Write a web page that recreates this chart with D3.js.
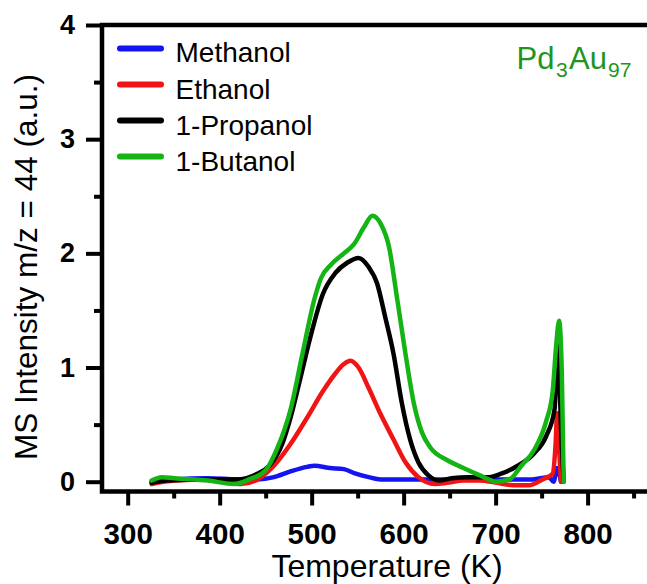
<!DOCTYPE html>
<html>
<head>
<meta charset="utf-8">
<script src="https://cdn.jsdelivr.net/npm/d3@7"></script>
<style>
html,body{margin:0;padding:0;background:#fff;}
svg{display:block;font-family:"Liberation Sans",Arial,sans-serif;}
</style>
</head>
<body>
<svg id="chart" width="647" height="584"></svg>
<script>
// ---- data ----
const seriesNames = ["Methanol", "Ethanol", "1-Propanol", "1-Butanol"];
const seriesColors = ["#1414f0", "#f01414", "#000000", "#14b414"];

const methanol = [[326,0.0],[351,0.02],[387,0.03],[420,0.02],[441,0.02],[459,0.04],[477,0.09],[495,0.13],[503,0.14],[520,0.12],[535,0.11],[548,0.07],[562,0.04],[575,0.02],[600,0.02],[640,0.02],[700,0.02],[740,0.02],[758,0.04],[763,0.0],[767,0.12],[771,0.0]];
const ethanol = [[326,-0.02],[351,0.01],[387,0.02],[423,-0.02],[441,0.02],[459,0.14],[477,0.33],[495,0.56],[512,0.79],[526,0.95],[535,1.03],[542,1.06],[551,1.0],[562,0.82],[575,0.59],[589,0.37],[602,0.17],[616,0.04],[634,-0.02],[647,-0.01],[665,0.01],[683,0.01],[701,-0.01],[719,-0.03],[737,-0.03],[751,0.02],[762,0.07],[765,0.3],[767,0.6],[769,0.3],[771,0.0]];
const propanol = [[326,-0.01],[342,0.01],[387,0.02],[418,0.02],[441,0.07],[454,0.14],[468,0.33],[477,0.56],[486,0.85],[499,1.28],[512,1.64],[526,1.83],[539,1.92],[551,1.96],[562,1.88],[571,1.74],[580,1.44],[589,1.12],[598,0.69],[607,0.37],[616,0.17],[627,0.055],[638,0.01],[652,0.03],[670,0.04],[693,0.04],[706,0.07],[724,0.14],[742,0.25],[755,0.40],[764,0.63],[768,1.2],[771,0.5],[774,0.0]];
const butanol = [[326,0.01],[337,0.04],[351,0.03],[387,0.01],[416,-0.02],[432,0.02],[450,0.10],[463,0.30],[477,0.63],[490,1.12],[503,1.6],[510,1.78],[521,1.90],[535,2.0],[546,2.08],[557,2.23],[566,2.33],[575,2.26],[584,2.06],[593,1.6],[602,1.12],[611,0.69],[620,0.43],[629,0.30],[647,0.19],[665,0.12],[683,0.055],[701,0.0],[715,0.02],[728,0.14],[742,0.28],[755,0.53],[762,0.79],[766,1.21],[769,1.41],[772,0.95],[774,0.0]];
const seriesData = [methanol, ethanol, propanol, butanol];

const xMajorTicks = [300, 400, 500, 600, 700, 800];
const xMinorTicks = [350, 450, 550, 650, 750, 850];
const yMajorTicks = [0, 1, 2, 3, 4];
const yMinorTicks = [0.5, 1.5, 2.5, 3.5];

// ---- layout ----
const svg = d3.select("#chart");
const x = d3.scaleLinear().domain([300, 800]).range([127.7, 587.6]);
const y = d3.scaleLinear().domain([0, 4]).range([481.7, 25]);
const frameL = 102, frameT = 25, frameB = 491.5, frameR = 660;

const plot = svg.append("g");
const line = d3.line().x(d => x(d[0])).y(d => y(d[1])).curve(d3.curveMonotoneX);

seriesData.forEach((s, i) => {
  plot.append("path").datum(s)
    .attr("d", line)
    .attr("fill", "none")
    .attr("stroke", seriesColors[i])
    .attr("stroke-width", 4.5)
    .attr("stroke-linejoin", "round")
    .attr("stroke-linecap", "round");
});

// frame
svg.append("rect").attr("x", frameL).attr("y", frameT)
  .attr("width", frameR-frameL).attr("height", frameB-frameT)
  .attr("fill", "none").attr("stroke", "#000").attr("stroke-width", 4.5);

// x axis ticks
const xAxisMajor = d3.axisBottom(x).tickValues(xMajorTicks).tickSize(14).tickPadding(18).tickFormat(d3.format("d"));
const gx = svg.append("g").attr("transform", `translate(0,${frameB})`).call(xAxisMajor);
gx.select(".domain").remove();
gx.selectAll("line").attr("stroke-width", 4);
gx.selectAll("text").attr("font-size", 29.5).attr("font-weight", "bold")
  .attr("font-family", "'Liberation Sans', Arial, sans-serif").attr("fill","#000");
const xAxisMinor = d3.axisBottom(x).tickValues(xMinorTicks).tickSize(7).tickFormat("");
const gxm = svg.append("g").attr("transform", `translate(0,${frameB})`).call(xAxisMinor);
gxm.select(".domain").remove();
gxm.selectAll("line").attr("stroke-width", 4);

// y axis ticks
const yAxisMajor = d3.axisLeft(y).tickValues(yMajorTicks).tickSize(16).tickPadding(11).tickFormat(d3.format("d"));
const gy = svg.append("g").attr("transform", `translate(${frameL},0)`).call(yAxisMajor);
gy.select(".domain").remove();
gy.selectAll("line").attr("stroke-width", 4);
gy.selectAll("text").attr("font-size", 27).attr("font-weight", "bold")
  .attr("font-family", "'Liberation Sans', Arial, sans-serif").attr("fill","#000");
const yAxisMinor = d3.axisLeft(y).tickValues(yMinorTicks).tickSize(8).tickFormat("");
const gym = svg.append("g").attr("transform", `translate(${frameL},0)`).call(yAxisMinor);
gym.select(".domain").remove();
gym.selectAll("line").attr("stroke-width", 4);

// axis titles
svg.append("text").attr("x", 387).attr("y", 577).attr("text-anchor", "middle")
  .attr("font-size", 32).text("Temperature (K)");
svg.append("text").attr("transform", "translate(37,267) rotate(-90)")
  .attr("text-anchor", "middle").attr("font-size", 31.5)
  .text("MS Intensity m/z = 44 (a.u.)");

// legend
const legend = svg.append("g");
const legendY = [48.4, 84.5, 120.5, 156.5];
seriesNames.forEach((n, i) => {
  const yy = legendY[i];
  legend.append("line").attr("x1", 120).attr("x2", 161).attr("y1", yy).attr("y2", yy)
    .attr("stroke", seriesColors[i]).attr("stroke-width", 6).attr("stroke-linecap", "round");
  legend.append("text").attr("x", 175.5).attr("y", yy + 14).attr("font-size", 28).text(n);
});

// sample label
const lab = svg.append("text").attr("x", 516.5).attr("y", 69).attr("font-size", 31).attr("fill", "#1e961e");
lab.append("tspan").text("Pd");
lab.append("tspan").attr("font-size", 21).attr("dx", 1.5).attr("dy", 7.5).text("3");
lab.append("tspan").attr("dx", 1.5).attr("dy", -7.5).text("Au");
lab.append("tspan").attr("font-size", 21).attr("dx", 1).attr("dy", 7.5).text("97");
</script>
</body>
</html>
